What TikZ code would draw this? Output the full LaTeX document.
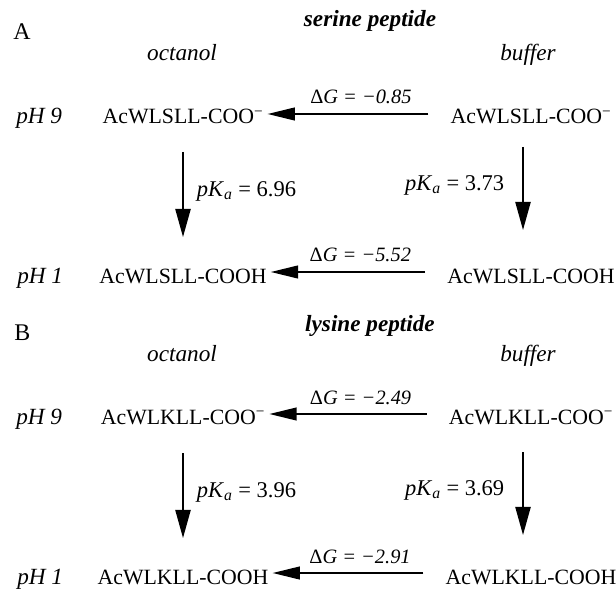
\documentclass[tikz,border=0pt]{standalone}
\usepackage{fontspec}
\setmainfont{Liberation Serif}
\usetikzlibrary{arrows.meta,calc}

\begin{document}
\begin{tikzpicture}[
		x=0.025cm, y=-0.025cm,
		every node/.style={inner sep=0pt, anchor=base, font=\fontsize{15.5}{18}\selectfont},
		harr/.style={-{Triangle[length=0.68cm,width=0.32cm]}, line width=1.1pt},
		varr/.style={-{Triangle[length=0.7cm,width=0.38cm]}, line width=1.1pt},
		panel/.style={font=\fontsize{17}{20}\selectfont},
		peptide/.style={font=\fontsize{16.5}{20}\selectfont\bfseries\itshape},
		colhead/.style={font=\fontsize{16.5}{20}\selectfont\itshape},
		dglabel/.style={font=\fontsize{14.5}{16}\selectfont\itshape, pos=0.42, yshift=0.25cm},
		pklabel/.style={font=\fontsize{16}{18}\selectfont, pos=0.5, yshift=-0.04cm},
	]
	\path[use as bounding box] (0,0) rectangle (616,590);

	\node[panel, anchor=base west] (labA) at (13,40) {A};
	\node[peptide] (serine) at (370,27) {serine peptide};
	\node[colhead] (octA) at (182,61) {octanol};
	\node[colhead] (bufA) at (528,61) {buffer};
	\node[colhead, anchor=base west] (phA9) at (16,124) {pH 9};
	\node[colhead, anchor=base west] (phA1) at (17,283) {pH 1};
	\node (octA9) at (183,124) {AcWLSLL-COO\textsuperscript{−}};
	\node (bufA9) at (531,124) {AcWLSLL-COO\textsuperscript{−}};
	\node (octA1) at (183,283) {AcWLSLL-COOH};
	\node (bufA1) at (531,283) {AcWLSLL-COOH};
	\draw[harr] ($(bufA9.base west)+(-22,-10)$) -- ($(octA9.base east)+(4,-10)$)
		node[dglabel] {{\upshape Δ}G = −0.85};
	\draw[harr] ($(bufA1.base west)+(-22,-11)$) -- ($(octA1.base east)+(4,-11)$)
		node[dglabel] {{\upshape Δ}G = −5.52};
	\draw[varr] ($(octA9.base)+(0,28)$) -- ($(octA1.base)+(0,-46)$)
		node[pklabel, anchor=base west, xshift=0.33cm] {\textit{pK}\textsubscript{\textit{a}} = 6.96};
	\draw[varr] ($(bufA9.base)+(-8,23)$) -- ($(bufA1.base)+(-8,-53)$)
		node[pklabel, anchor=base east, xshift=-0.45cm] {\textit{pK}\textsubscript{\textit{a}} = 3.73};

	\node[panel, anchor=base west] (labB) at (14,340) {B};
	\node[peptide] (lysine) at (370,331) {lysine peptide};
	\node[colhead] (octB) at (182,361) {octanol};
	\node[colhead] (bufB) at (528,361) {buffer};
	\node[colhead, anchor=base west] (phB9) at (16,424) {pH 9};
	\node[colhead, anchor=base west] (phB1) at (17,584) {pH 1};
	\node (octB9) at (183,424) {AcWLKLL-COO\textsuperscript{−}};
	\node (bufB9) at (531,424) {AcWLKLL-COO\textsuperscript{−}};
	\node (octB1) at (183,584) {AcWLKLL-COOH};
	\node (bufB1) at (531,584) {AcWLKLL-COOH};
	\draw[harr] ($(bufB9.base west)+(-22,-10)$) -- ($(octB9.base east)+(4,-10)$)
		node[dglabel] {{\upshape Δ}G = −2.49};
	\draw[harr] ($(bufB1.base west)+(-22,-11)$) -- ($(octB1.base east)+(4,-11)$)
		node[dglabel] {{\upshape Δ}G = −2.91};
	\draw[varr] ($(octB9.base)+(0,29)$) -- ($(octB1.base)+(0,-46)$)
		node[pklabel, anchor=base west, xshift=0.33cm] {\textit{pK}\textsubscript{\textit{a}} = 3.96};
	\draw[varr] ($(bufB9.base)+(-8,28)$) -- ($(bufB1.base)+(-8,-49)$)
		node[pklabel, anchor=base east, xshift=-0.45cm] {\textit{pK}\textsubscript{\textit{a}} = 3.69};
\end{tikzpicture}
\end{document}
